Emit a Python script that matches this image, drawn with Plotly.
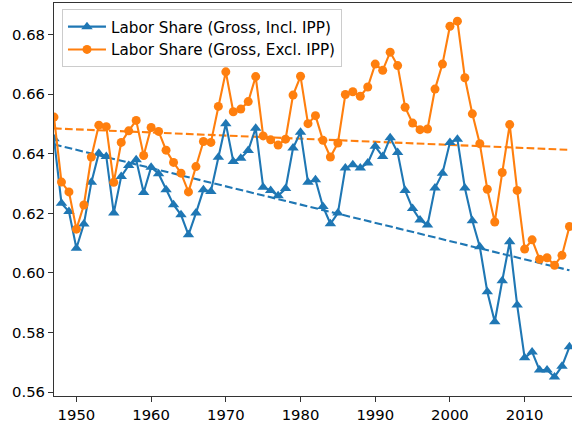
import numpy as np
import plotly.graph_objects as go

years = list(range(1947, 2017))

incl_ipp = [0.6450, 0.6234, 0.6206, 0.6083, 0.6164, 0.6304, 0.6402, 0.6391, 0.6201, 0.6324,
            0.6361, 0.6380, 0.6270, 0.6355, 0.6333, 0.6279, 0.6229, 0.6195, 0.6128, 0.6201,
            0.6279, 0.6273, 0.6388, 0.6501, 0.6374, 0.6385, 0.6411, 0.6486, 0.6288, 0.6277,
            0.6259, 0.6283, 0.6419, 0.6472, 0.6304, 0.6313, 0.6223, 0.6165, 0.6201, 0.6352,
            0.6363, 0.6352, 0.6369, 0.6425, 0.6391, 0.6454, 0.6404, 0.6277, 0.6216, 0.6178,
            0.6161, 0.6285, 0.6335, 0.6438, 0.6449, 0.6285, 0.6175, 0.6088, 0.5937, 0.5836,
            0.5974, 0.6105, 0.5892, 0.5715, 0.5735, 0.5674, 0.5674, 0.5651, 0.5687, 0.5752]

excl_ipp = [0.6523, 0.6305, 0.6272, 0.6147, 0.6228, 0.6389, 0.6496, 0.6491, 0.6304, 0.6438,
            0.6477, 0.6512, 0.6394, 0.6488, 0.6475, 0.6412, 0.6371, 0.6335, 0.6272, 0.6357,
            0.6441, 0.6438, 0.6559, 0.6675, 0.6541, 0.6550, 0.6575, 0.6659, 0.6460, 0.6447,
            0.6429, 0.6449, 0.6597, 0.6660, 0.6501, 0.6528, 0.6445, 0.6389, 0.6436, 0.6599,
            0.6608, 0.6593, 0.6624, 0.6701, 0.6680, 0.6741, 0.6696, 0.6556, 0.6503, 0.6481,
            0.6483, 0.6617, 0.6701, 0.6828, 0.6845, 0.6655, 0.6534, 0.6434, 0.6281, 0.6171,
            0.6337, 0.6498, 0.6277, 0.6080, 0.6111, 0.6046, 0.6051, 0.6026, 0.6059, 0.6156]

names = ["Labor Share (Gross, Incl. IPP)", "Labor Share (Gross, Excl. IPP)"]
colors = ["#1f77b4", "#ff7f0e"]
symbols = ["triangle-up", "circle"]
x_ticks = [1950, 1960, 1970, 1980, 1990, 2000, 2010]
y_ticks = [0.56, 0.58, 0.60, 0.62, 0.64, 0.66, 0.68]

x = np.array(years, dtype=float)
fig = go.Figure()

# linear trend lines (behind)
for vals, col in zip([incl_ipp, excl_ipp], colors):
    slope, icpt = np.polyfit(x, np.array(vals), 1)
    xt = np.array([x[0], x[-1]])
    fig.add_trace(go.Scatter(x=xt, y=slope * xt + icpt, mode="lines",
                             line=dict(color=col, width=2.1, dash="7.7px,3.3px"),
                             showlegend=False, hoverinfo="skip"))

for vals, name, col, sym in zip([incl_ipp, excl_ipp], names, colors, symbols):
    fig.add_trace(go.Scatter(x=years, y=vals, mode="lines+markers", name=name,
                             line=dict(color=col, width=2.1),
                             marker=dict(symbol=sym, size=9 if sym == "circle" else 10, color=col)))

fig.update_layout(
    width=572, height=426,
    margin=dict(l=54, r=0, t=3, b=30),
    plot_bgcolor="white", paper_bgcolor="white",
    font=dict(family="DejaVu Sans", size=14.8, color="black"),
    showlegend=True,
    legend=dict(x=0.0154, y=0.984, xanchor="left", yanchor="top",
                bgcolor="rgba(255,255,255,0.8)", bordercolor="#cccccc", borderwidth=1,
                font=dict(family="DejaVu Sans", size=15.2), tracegroupgap=0,
                itemwidth=38),
)
fig.update_xaxes(range=[1947, 2016.34], tickvals=x_ticks,
                 showgrid=False, zeroline=False, showline=True, mirror=True,
                 linecolor="#333333", linewidth=1, ticks="outside", ticklen=5,
                 tickcolor="#333333", tickfont=dict(size=14.8))
fig.update_yaxes(range=[0.5587, 0.6906], tickvals=y_ticks,
                 tickformat=".2f", showgrid=False, zeroline=False, showline=True, mirror=False,
                 linecolor="#333333", linewidth=1, ticks="outside", ticklen=5,
                 tickcolor="#333333", tickfont=dict(size=14.8))

fig.write_html("out.html", config={"displayModeBar": False},
               post_script="document.body.style.margin='0';document.body.style.overflow='hidden';")
